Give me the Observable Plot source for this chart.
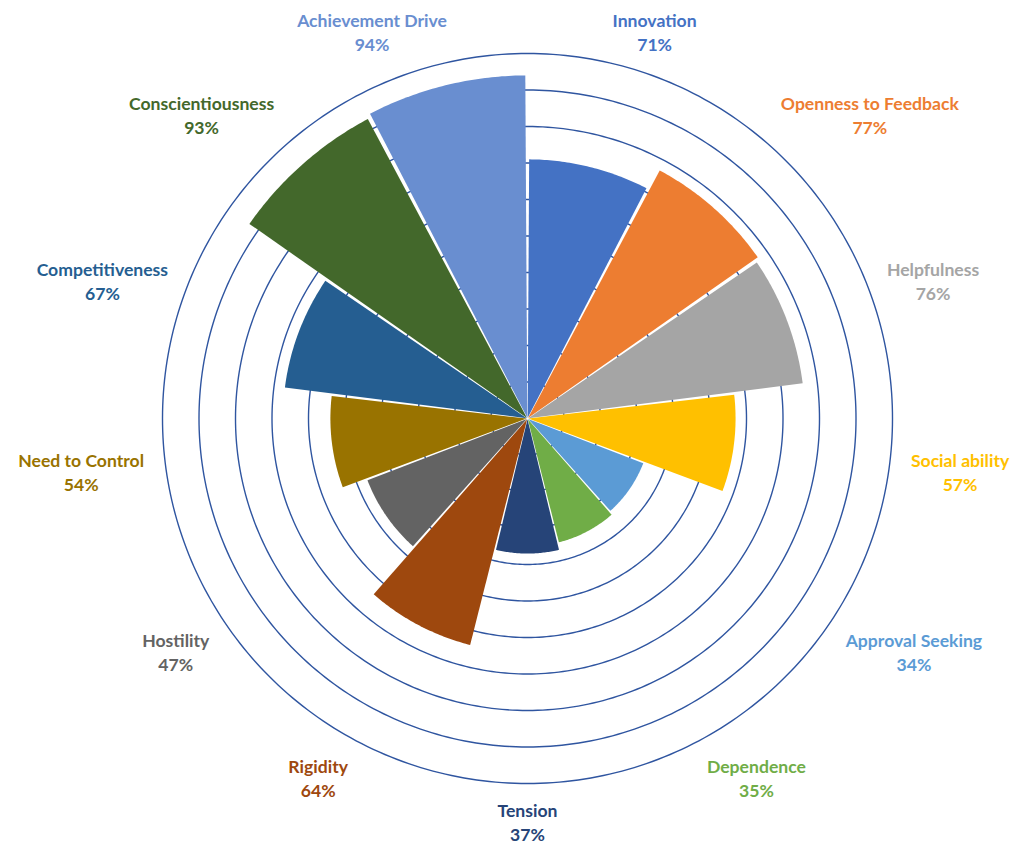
<!DOCTYPE html>
<html>
<head>
<meta charset="utf-8">
<script src="https://cdn.jsdelivr.net/npm/d3@7"></script>
<script src="https://cdn.jsdelivr.net/npm/@observablehq/plot@0.6"></script>
<style>
  html, body { margin: 0; padding: 0; background: #ffffff; }
  #chart svg { display: block; }
</style>
</head>
<body>
<div id="chart"></div>
<script>
// ---- data (clockwise from 12 o'clock) ----
const categories = ["Innovation", "Openness to Feedback", "Helpfulness", "Social ability",
  "Approval Seeking", "Dependence", "Tension", "Rigidity", "Hostility",
  "Need to Control", "Competitiveness", "Conscientiousness", "Achievement Drive"];
const values = [71, 77, 76, 57, 34, 35, 37, 64, 47, 54, 67, 93, 94];
const colors = ["#4472C4", "#ED7D31", "#A5A5A5", "#FFC000", "#5B9BD5", "#70AD47",
  "#264478", "#9E480E", "#636363", "#997300", "#255E91", "#43682B", "#698ED0"];
const ringValues = [10, 20, 30, 40, 50, 60, 70, 80, 90, 100];

// ---- layout ----
const W = 1024, H = 847;
const CX = 527, CY = 418;      // centre of the rose, px
const PX = 3.65;               // px per percentage point
const FONT_SIZE = 17.6;
const FAMILY = 'Lato, "Open Sans", sans-serif';
const FONT = `bold ${FONT_SIZE}px ${FAMILY}`;

const n = categories.length;
const step = 2 * Math.PI / n;

// rings
const ringPts = ringValues.flatMap(v =>
  d3.range(0, 361).map(k => {
    const a = k * Math.PI / 180;
    return {ring: v, x: v * Math.sin(a), y: v * Math.cos(a)};
  }));

// wedges (small transparent gaps between them)
const gapAngle = 0.0064;
const wedgePts = categories.flatMap((key, i) => {
  const a0 = i * step + gapAngle, a1 = (i + 1) * step - gapAngle;
  const mid = (i + 0.5) * step;
  const r = values[i];
  const e = 0.8 / PX;
  const pts = [{key, x: e * Math.sin(mid), y: e * Math.cos(mid)}];
  for (let k = 0; k <= 48; ++k) {
    const a = a0 + (a1 - a0) * k / 48;
    pts.push({key, x: r * Math.sin(a), y: r * Math.cos(a)});
  }
  return pts;
});

// labels, placed just outside the outer ring
const ctx = document.createElement("canvas").getContext("2d");
ctx.font = FONT;
const clamp = (v, lo, hi) => Math.max(lo, Math.min(hi, v));
const labels = categories.map((key, i) => {
  const text = `${key}\n${values[i]}%`;
  const mid = (i + 0.5) * step;
  const s = Math.sin(mid), c = Math.cos(mid);
  const halfW = Math.max(...text.split("\n").map(t => ctx.measureText(t).width)) / 2;
  const halfH = 18;
  const rp = 383 - 4 * c + 3 * Math.abs(s) + 2 * Math.min(0, c);
  const g = c >= 0.32 ? Math.min(1, 2.5 * (c - 0.32)) : Math.max(-1, 0.8 * (c - 0.32));
  const xPx = rp * s + halfW * clamp(3.6 * s, -1, 1);
  const yPx = rp * c + halfH * g;
  return {key, text, x: xPx / PX, y: yPx / PX};
});

const chart = Plot.plot({
  width: W,
  height: H,
  margin: 0,
  style: {background: "#ffffff"},
  x: {domain: [-CX / PX, (W - CX) / PX], axis: null},
  y: {domain: [-(H - CY) / PX, CY / PX], axis: null},
  color: {domain: categories, range: colors},
  marks: [
    Plot.line(ringPts, {x: "x", y: "y", z: "ring", stroke: "#2F55A0", strokeWidth: 1.4}),
    Plot.line(wedgePts, {x: "x", y: "y", z: "key", fill: "key", stroke: "none", curve: "linear-closed"}),
    Plot.text(labels, {
      x: "x", y: "y", text: "text", fill: "key",
      fontSize: FONT_SIZE, fontWeight: "bold", fontFamily: FAMILY,
      lineHeight: 24 / FONT_SIZE, textAnchor: "middle", lineAnchor: "middle"
    })
  ]
});
document.getElementById("chart").append(chart);
</script>
</body>
</html>
